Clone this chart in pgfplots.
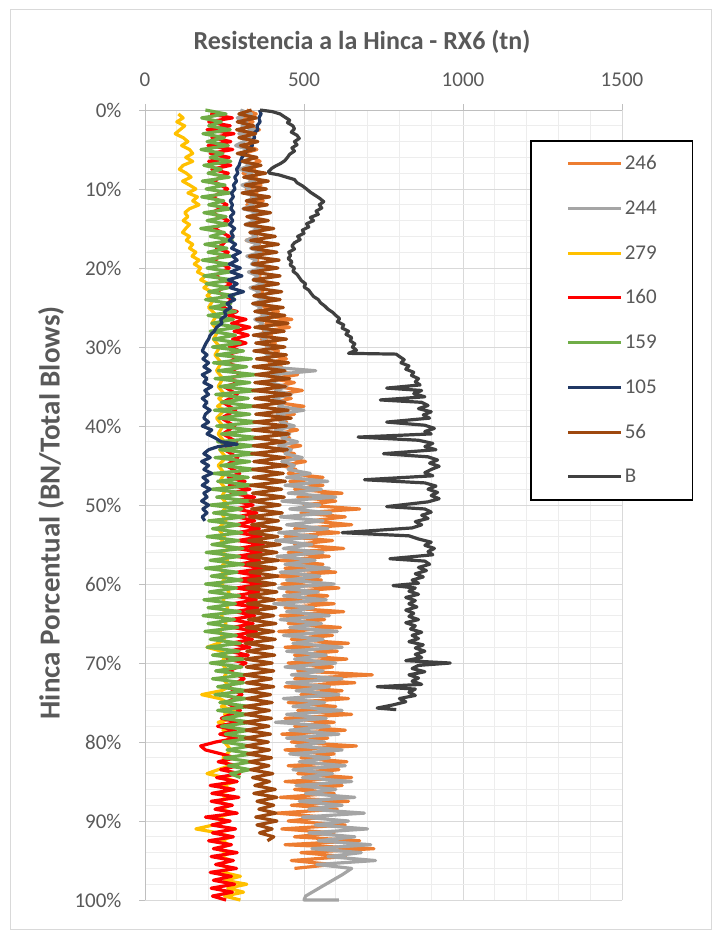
\documentclass[border=0pt]{standalone}
\usepackage{pgfplots}
\pgfplotsset{compat=1.18}
\usepackage{fontspec}
\setmainfont{Carlito}
\definecolor{c246}{HTML}{ED7D31}
\definecolor{c244}{HTML}{A5A5A5}
\definecolor{c279}{HTML}{FFC000}
\definecolor{c160}{HTML}{FF0000}
\definecolor{c159}{HTML}{70AD47}
\definecolor{c105}{HTML}{203864}
\definecolor{c56}{HTML}{9E480E}
\definecolor{cB}{HTML}{404040}
\definecolor{txt}{HTML}{595959}
\definecolor{maj}{HTML}{D9D9D9}
\definecolor{mnr}{HTML}{EDEDED}
\definecolor{axl}{HTML}{BFBFBF}
\begin{document}
\begin{tikzpicture}[x=1bp,y=1bp]
\draw[color=maj, line width=0.8bp] (10.5,-9.5) rectangle (711,-929.5);
\node[font=\fontsize{26bp}{30bp}\selectfont\bfseries, text=txt] at (362,-42) {Resistencia a la Hinca - RX6 (tn)};
\begin{axis}[
  at={(145bp,-110bp)}, anchor=north west,
  scale only axis, width=477bp, height=790bp,
  xmin=0, xmax=1500, ymin=0, ymax=100, y dir=reverse,
  axis x line=top, axis y line=left,
  axis line style={-, draw=axl, line width=0.9bp},
  xtick={0,500,1000,1500}, minor x tick num=4,
  ytick={0,10,...,100}, minor y tick num=4,
  grid=both,
  major grid style={draw=maj, line width=0.8bp},
  minor grid style={draw=mnr, line width=0.8bp},
  tick align=outside, major tick length=6bp, minor tick length=0bp,
  tick style={draw=axl, line width=0.8bp},
  /pgf/number format/assume math mode=true,
  /pgf/number format/1000 sep={},
  tick label style={font=\fontsize{21bp}{25bp}\selectfont, text=txt},
  yticklabel={\pgfmathprintnumber{\tick}\%},
  xticklabel style={yshift=14bp},
  yticklabel style={xshift=-14bp},
  ylabel={Hinca Porcentual (BN/Total Blows)},
  ylabel style={at={(axis description cs:-0.197,0.49)}, anchor=center, font=\fontsize{29bp}{33bp}\selectfont\bfseries, text=txt},
  clip=false,
  every axis plot/.append style={line width=3.2bp, line join=round},
  legend style={at={(axis description cs:0.807,0.962)}, anchor=north west, draw=black, line width=1.6bp, fill=white,
    inner xsep=36bp, inner ysep=14bp, row sep=26.7bp, column sep=2bp,
    font=\fontsize{21bp}{25bp}\selectfont, text=txt,
    nodes={inner sep=0bp, text height=15bp, text depth=3bp}},
  legend cell align=left,
  legend image code/.code={\draw[#1, line width=3bp] (0bp,0bp) -- (53bp,0bp);},
]
% 246
\addplot[c246] coordinates {
(320,0) (350,0.5) (305,1) (340,1.5) (315,2) (360,2.5) (325,3) (300,3.5) (345,4) (318,4.5) (352,5) (310,5.5) (338,6) (362,6.5) (322,7) (345,7.5) (308,8) (350,8.5) (330,9) (365,9.5)
(318,10) (352,10.5) (335,11) (372,11.5) (320,12) (348,12.5) (362,13) (325,13.5) (355,14) (338,14.5) (378,15) (330,15.5) (352,16) (318,16.5) (360,17) (340,17.5) (372,18) (328,18.5) (355,19) (345,19.5)
(380,20) (335,20.5) (362,21) (348,21.5) (385,22) (340,22.5) (370,23) (352,23.5) (392,24) (360,24.5) (378,25) (420,25.5) (368,26) (462,26.5) (380,27) (455,27.5) (372,28) (398,28.5) (365,29) (410,29.5)
(382,30) (420,30.5) (395,31) (445,31.5) (390,32) (430,32.5) (405,33) (480,33.5) (400,34) (470,34.5) (415,35) (495,35.5) (420,36) (460,36.5) (410,37) (500,37.5) (425,38) (470,38.5) (400,39) (445,39.5)
(430,40) (480,40.5) (410,41) (455,41.5) (425,42) (490,42.5) (415,43) (470,43.5) (440,44) (505,44.5) (430,45) (475,45.5) (450,46) (560,46.5) (455,47) (560,47.5) (470,48) (620,48.5) (480,49) (600,49.5)
(500,50) (675,50.5) (490,51) (630,51.5) (520,52) (650,52.5) (470,53) (610,53.5) (440,54) (590,54.5) (470,55) (625,55.5) (450,56) (580,56.5) (425,57) (560,57.5) (440,58) (600,58.5) (415,59) (555,59.5)
(430,60) (610,60.5) (445,61) (575,61.5) (415,62) (595,62.5) (440,63) (625,63.5) (425,64) (565,64.5) (450,65) (615,65.5) (420,66) (590,66.5) (460,67) (640,67.5) (440,68) (605,68.5) (470,69) (635,69.5)
(450,70) (590,70.5) (480,71) (715,71.5) (470,72) (660,72.5) (440,73) (620,73.5) (490,74) (640,74.5) (450,75) (600,75.5) (480,76) (650,76.5) (440,77) (595,77.5) (470,78) (630,78.5) (430,79) (575,79.5)
(460,80) (665,80.5) (440,81) (595,81.5) (490,82) (635,82.5) (450,83) (610,83.5) (480,84) (650,84.5) (440,85) (620,85.5) (470,86) (595,86.5) (425,87) (640,87.5) (460,88) (605,88.5) (415,89) (565,89.5)
(450,90) (630,90.5) (430,91) (595,91.5) (470,92) (675,92.5) (440,93) (720,93.5) (490,94) (630,94.5) (460,95) (590,95.5) (470,96)
};
% 244
\addplot[c244] coordinates {
(300,0) (335,0.5) (290,1) (320,1.5) (305,2) (345,2.5) (295,3) (330,3.5) (310,4) (285,4.5) (325,5) (300,5.5) (340,6) (310,6.5) (330,7) (298,7.5) (335,8) (315,8.5) (345,9) (305,9.5)
(330,10) (312,10.5) (350,11) (320,11.5) (340,12) (308,12.5) (355,13) (325,13.5) (345,14) (315,14.5) (360,15) (330,15.5) (350,16) (318,16.5) (358,17) (332,17.5) (365,18) (320,18.5) (350,19) (335,19.5)
(370,20) (325,20.5) (355,21) (340,21.5) (372,22) (330,22.5) (360,23) (345,23.5) (375,24) (340,24.5) (365,25) (350,25.5) (385,26) (345,26.5) (370,27) (355,27.5) (395,28) (350,28.5) (380,29) (360,29.5)
(400,30) (365,30.5) (390,31) (375,31.5) (420,32) (380,32.5) (537,33) (400,33.5) (430,34) (390,34.5) (445,35) (410,35.5) (460,36) (405,36.5) (440,37) (420,37.5) (500,38) (415,38.5) (450,39) (425,39.5)
(470,40) (410,40.5) (455,41) (430,41.5) (480,42) (420,42.5) (460,43) (440,43.5) (495,44) (430,44.5) (470,45) (450,45.5) (520,46) (445,46.5) (575,47) (440,47.5) (555,48) (450,48.5) (600,49) (430,49.5)
(550,50) (455,50.5) (585,51) (425,51.5) (560,52) (445,52.5) (575,53) (420,53.5) (540,54) (410,54.5) (525,55) (435,55.5) (560,56) (415,56.5) (535,57) (440,57.5) (580,58) (425,58.5) (550,59) (445,59.5)
(595,60) (420,60.5) (545,61) (435,61.5) (570,62) (405,62.5) (530,63) (445,63.5) (580,64) (425,64.5) (555,65) (455,65.5) (605,66) (435,66.5) (560,67) (465,67.5) (620,68) (445,68.5) (570,69) (470,69.5)
(600,70) (440,70.5) (560,71) (460,71.5) (620,72) (445,72.5) (580,73) (475,73.5) (610,74) (435,74.5) (565,75) (465,75.5) (620,76) (445,76.5) (570,77) (410,77.5) (580,78) (455,78.5) (610,79) (445,79.5)
(565,80) (475,80.5) (620,81) (455,81.5) (580,82) (485,82.5) (630,83) (465,83.5) (590,84) (495,84.5) (650,85) (475,85.5) (600,86) (505,86.5) (660,87) (485,87.5) (620,88) (515,88.5) (690,89) (495,89.5)
(640,90) (535,90.5) (700,91) (515,91.5) (660,92) (545,92.5) (710,93) (525,93.5) (680,94) (575,94.5) (725,95) (540,95.5) (650,96) (620,96.8) (560,98.2) (505,99.5) (500,100) (610,100)
};
% 279
\addplot[c279] coordinates {
(105,0.5) (120,1) (100,1.5) (125,2) (110,2.5) (95,3) (120,3.5) (135,4) (115,4.5) (140,5) (150,5.5) (128,6) (150,6.5) (120,7) (108,7.5) (130,8) (145,8.5) (118,9) (140,9.5)
(160,10) (135,10.5) (165,11) (150,11.5) (170,12) (140,12.5) (125,13) (135,13.5) (120,14) (140,14.5) (128,15) (118,15.5) (140,16) (130,16.5) (150,17) (140,17.5) (160,18) (148,18.5) (170,19) (155,19.5)
(175,20) (165,20.5) (190,21) (175,21.5) (200,22) (185,22.5) (210,23) (195,23.5) (215,24) (200,25) (225,26) (210,27) (230,28) (215,29) (235,30) (220,31) (240,32) (225,33) (245,34) (230,35)
(250,36) (232,36.5) (245,37) (228,37.5) (250,38) (225,39) (245,40) (230,41) (250,42) (235,43) (255,44) (230,45) (250,46) (235,47) (255,48) (240,49) (260,50) (240,51) (255,52) (230,53)
(250,54) (235,55) (270,55.5) (240,56) (260,57) (235,58) (255,59) (240,60) (265,61) (245,62) (260,63) (240,64) (255,65) (235,66) (250,67) (230,67.5) (195,68) (240,68.5) (255,69) (240,70)
(260,71) (245,72) (265,73) (240,73.5) (178,74) (235,74.5) (260,75) (240,75.5) (280,76) (250,76.5) (275,77) (230,77.5) (265,78) (245,78.5) (280,79) (250,80) (270,81) (245,82) (265,83) (230,83.5)
(195,84) (250,84.5) (285,85) (245,85.5) (270,86) (235,86.5) (260,87) (230,87.5) (265,88) (240,88.5) (275,89) (230,89.5) (255,90) (215,90.5) (160,91) (230,91.5) (270,92) (240,92.5) (265,93) (225,93.5)
(260,94) (240,94.5) (270,95) (235,95.5) (265,96) (245,96.5) (300,97) (250,97.5) (320,98) (260,98.5) (310,99) (250,99.5) (300,100)
};
% 160
\addplot[c160] coordinates {
(205,0.5) (275,1) (200,1.5) (268,2) (195,2.5) (280,3) (210,3.5) (270,4) (198,4.5) (276,5) (205,5.5) (265,6) (200,6.5) (270,7) (210,7.5) (262,8) (215,9) (260,10) (212,11) (258,12)
(210,13) (262,14) (218,15) (265,16) (245,17) (225,17.5) (262,18) (215,19) (265,20) (220,21) (270,22) (225,23) (275,24) (240,25) (290,25.5) (262,26) (318,26.5) (272,27) (330,27.5) (280,28)
(325,28.5) (275,29) (318,29.5) (265,30) (300,30.5) (255,31) (295,31.5) (250,32) (300,32.5) (265,33) (315,33.5) (255,34) (300,34.5) (248,35) (290,36) (245,37) (285,38) (240,39) (282,40) (245,41)
(288,42) (250,43) (292,44) (255,45) (298,46) (262,46.5) (315,47) (265,47.5) (330,48) (270,48.5) (345,49) (280,49.5) (340,50) (285,50.5) (352,51) (290,51.5) (345,52) (285,52.5) (360,53) (290,53.5)
(365,54) (292,54.5) (372,55) (290,55.5) (365,56) (288,56.5) (360,57) (295,57.5) (375,58) (290,58.5) (362,59) (285,59.5) (368,60) (288,60.5) (358,61) (280,61.5) (350,62) (275,62.5) (355,63) (282,63.5)
(345,64) (270,64.5) (340,65) (275,65.5) (350,66) (280,66.5) (338,67) (268,67.5) (330,68) (262,68.5) (325,69) (258,69.5) (318,70) (265,71) (312,72) (258,73) (305,74) (255,75) (300,76) (240,77)
(292,77.5) (228,78) (285,78.5) (235,79) (290,79.5) (222,80) (175,80.5) (190,81) (240,81.5) (285,82) (230,82.5) (292,83) (238,83.5) (298,84) (225,84.5) (290,85) (205,85.5) (280,86) (210,86.5) (295,87)
(208,87.5) (275,88) (220,88.5) (290,89) (190,89.5) (268,90) (210,90.5) (285,91) (212,91.5) (278,92) (200,92.5) (272,93) (215,93.5) (290,94) (208,94.5) (278,95) (222,95.5) (288,96) (205,96.5) (272,97)
(215,97.5) (282,98) (208,98.5) (275,99) (212,99.5) (255,100)
};
% 159
\addplot[c159] coordinates {
(190,0) (255,0.5) (178,1) (240,1.5) (200,2) (268,2.5) (182,3) (250,3.5) (195,4) (262,4.5) (176,5) (245,5.5) (205,6) (270,6.5) (185,7) (240,7.5) (198,8) (265,8.5) (180,9) (252,9.5)
(192,10) (268,10.5) (178,11) (248,11.5) (200,12) (272,12.5) (185,13) (255,13.5) (195,14) (265,14.5) (175,15) (250,15.5) (205,16) (275,16.5) (188,17) (258,17.5) (198,18) (270,18.5) (180,19) (262,19.5)
(195,20) (268,20.5) (185,21) (275,21.5) (192,22) (262,22.5) (200,23) (280,23.5) (190,24) (270,24.5) (205,25) (285,25.5) (198,26) (278,26.5) (210,27) (295,27.5) (205,28) (285,28.5) (215,29) (300,29.5)
(212,30) (310,30.5) (225,31) (335,31.5) (215,32) (320,32.5) (230,33) (350,33.5) (220,34) (330,34.5) (235,35) (355,35.5) (222,36) (325,36.5) (240,37) (345,37.5) (218,38) (330,38.5) (232,39) (360,39.5)
(225,40) (335,40.5) (240,41) (365,41.5) (228,42) (340,42.5) (235,43) (355,43.5) (220,44) (330,44.5) (238,45) (350,45.5) (215,46) (325,46.5) (228,47) (340,47.5) (210,48) (318,48.5) (225,49) (330,49.5)
(205,50) (305,50.5) (215,51) (312,51.5) (200,52) (298,52.5) (212,53) (305,53.5) (195,54) (295,54.5) (210,55) (308,55.5) (192,56) (298,56.5) (205,57) (310,57.5) (190,58) (290,58.5) (208,59) (305,59.5)
(190,60) (288,60.5) (202,61) (298,61.5) (185,62) (285,62.5) (198,63) (300,63.5) (182,64) (282,64.5) (198,65) (292,65.5) (188,66) (288,66.5) (205,67) (300,67.5) (195,68) (295,68.5) (212,69) (310,69.5)
(205,70) (305,70.5) (222,71) (318,71.5) (212,72) (310,72.5) (228,73) (322,73.5) (220,74) (318,74.5) (235,75) (328,75.5) (228,76) (322,76.5) (245,77) (335,77.5) (240,78) (330,78.5) (252,79) (338,79.5)
(245,80) (332,80.5) (258,81) (340,81.5) (250,82) (335,82.5) (262,83) (330,83.5) (268,84) (300,84.5)
};
% 105
\addplot[c105] coordinates {
(360,0) (365,0.5) (358,1) (362,1.5) (352,2) (355,2.5) (340,3) (345,3.5) (332,4) (338,4.5) (325,5) (315,5.5) (305,6) (300,6.5) (296,7) (288,7.5) (292,8) (282,8.5) (288,9) (278,9.5)
(283,10) (272,10.5) (278,11) (268,11.5) (275,12) (270,12.5) (280,13) (268,13.5) (276,14) (266,14.5) (282,15) (270,15.5) (278,16) (265,16.5) (285,17) (272,17.5) (300,18) (275,18.5) (290,19) (265,19.5)
(300,20) (270,20.5) (305,21) (262,21.5) (290,22) (268,22.5) (310,23) (265,23.5) (282,24) (258,24.5) (270,25) (250,25.5) (255,26) (238,26.5) (242,27) (225,27.5) (218,28) (205,28.5) (200,29) (192,29.5)
(186,30) (180,30.5) (195,31) (182,31.5) (200,32) (185,32.5) (205,33) (180,33.5) (195,34) (185,34.5) (210,35) (188,35.5) (200,36) (180,36.5) (195,37) (185,37.5) (205,38) (190,38.5) (185,39) (200,39.5)
(180,40) (210,40.5) (195,41) (220,41.5) (240,42) (290,42.3) (230,42.6) (200,43) (185,43.5) (205,44) (178,44.5) (200,45) (185,45.5) (210,46) (182,46.5) (198,47) (180,47.5) (205,48) (185,48.5) (195,49)
(178,49.5) (200,50) (182,50.5) (195,51) (180,51.5) (188,52)
};
% 56
\addplot[c56] coordinates {
(335,0) (295,0.5) (350,1) (290,1.5) (342,2) (288,2.5) (348,3) (295,3.5) (355,4) (300,4.5) (345,5) (290,5.5) (352,6) (305,6.5) (365,7) (308,7.5) (380,8) (310,8.5) (388,9) (315,9.5)
(382,10) (305,10.5) (392,11) (318,11.5) (385,12) (310,12.5) (395,13) (320,13.5) (388,14) (315,14.5) (405,15) (330,15.5) (410,16) (332,16.5) (420,17) (335,17.5) (415,18) (328,18.5) (422,19) (338,19.5)
(418,20) (335,20.5) (425,21) (340,21.5) (420,22) (338,22.5) (430,23) (342,23.5) (425,24) (338,24.5) (435,25) (345,25.5) (440,26) (350,26.5) (450,27) (345,27.5) (438,28) (340,28.5) (445,29) (348,29.5)
(440,30) (342,30.5) (445,31) (350,31.5) (452,32) (340,32.5) (440,33) (348,33.5) (455,34) (345,34.5) (442,35) (338,35.5) (458,36) (345,36.5) (440,37) (340,37.5) (450,38) (348,38.5) (460,39) (342,39.5)
(445,40) (338,40.5) (452,41) (345,41.5) (440,42) (340,42.5) (448,43) (335,43.5) (438,44) (342,44.5) (445,45) (338,45.5) (435,46) (340,46.5) (442,47) (332,47.5) (430,48) (338,48.5) (438,49) (330,49.5)
(425,50) (335,50.5) (432,51) (328,51.5) (420,52) (335,52.5) (428,53) (330,53.5) (418,54) (325,54.5) (425,55) (332,55.5) (415,56) (326,56.5) (420,57) (322,57.5) (412,58) (330,58.5) (418,59) (325,59.5)
(410,60) (320,60.5) (415,61) (328,61.5) (408,62) (322,62.5) (412,63) (320,63.5) (405,64) (325,64.5) (412,65) (318,65.5) (405,66) (322,66.5) (410,67) (315,67.5) (402,68) (320,68.5) (408,69) (315,69.5)
(400,70) (318,70.5) (405,71) (312,71.5) (398,72) (318,72.5) (405,73) (315,73.5) (395,74) (320,74.5) (400,75) (312,75.5) (392,76) (315,76.5) (398,77) (312,77.5) (390,78) (318,78.5) (395,79) (315,79.5)
(388,80) (318,80.5) (392,81) (322,81.5) (398,82) (328,82.5) (390,83) (332,83.5) (402,84) (338,84.5) (392,85) (345,85.5) (410,86) (342,86.5) (415,87) (352,87.5) (405,88) (358,88.5) (412,89) (348,89.5)
(415,90) (352,90.5) (400,91) (360,91.5) (405,92) (385,92.5)
};
% B
\addplot[cB] coordinates {
(362,0) (400,0.2) (425,0.5) (440,0.9) (455,1.3) (448,1.6) (465,2.0) (470,2.4) (460,2.8) (478,3.2) (485,3.6) (470,4.0) (478,4.4) (462,4.8) (470,5.2) (455,5.6) (448,6.0) (440,6.4) (425,6.8) (410,7.1)
(398,7.4) (388,7.8) (392,8.0) (420,8.2) (445,8.5) (470,8.8) (478,9.2) (495,9.6) (508,10.0) (520,10.4) (535,10.8) (550,11.2) (562,11.6) (548,12.0) (556,12.4) (538,12.8) (545,13.2) (520,13.6) (530,14.0) (508,14.4)
(515,14.8) (495,15.2) (500,15.6) (480,16.0) (488,16.4) (470,16.8) (462,17.2) (470,17.6) (452,18.0) (458,18.4) (450,18.8) (462,19.2) (456,19.6) (470,20.0) (465,20.4) (478,20.8) (485,21.2) (492,21.6) (505,22.0) (500,22.4)
(515,22.8) (522,23.2) (530,23.6) (545,24.0) (552,24.4) (565,24.8) (575,25.2) (590,25.6) (600,26.0) (612,26.4) (605,26.8) (625,27.2) (620,27.6) (640,28.0) (632,28.4) (650,28.8) (645,29.2) (660,29.6) (652,30.0) (665,30.4)
(640,30.8) (790,30.9) (800,31.2) (815,31.6) (805,32.0) (830,32.4) (820,32.8) (845,33.2) (838,33.6) (860,34.0) (850,34.4) (865,34.8) (760,35.2) (870,35.5) (845,35.9) (880,36.3) (740,36.7) (870,37.0) (890,37.4) (860,37.8)
(900,38.2) (875,38.6) (895,39.0) (760,39.5) (880,39.9) (910,40.3) (880,40.7) (900,41.0) (670,41.4) (860,41.8) (905,42.2) (880,42.6) (915,43.0) (750,43.5) (890,43.9) (920,44.3) (895,44.7) (925,45.1) (900,45.5) (880,45.9)
(905,46.3) (690,46.8) (880,47.2) (915,47.6) (890,48.0) (920,48.4) (900,48.8) (925,49.2) (890,49.6) (760,50.2) (880,50.5) (900,50.9) (870,51.3) (890,51.7) (850,52.1) (870,52.5) (840,52.9) (620,53.5) (830,53.9) (860,54.3)
(900,54.7) (880,55.1) (910,55.5) (890,55.9) (905,56.3) (770,56.8) (880,57.1) (895,57.5) (860,57.9) (885,58.3) (850,58.7) (875,59.1) (840,59.5) (860,59.9) (780,60.2) (850,60.5) (830,60.9) (860,61.3) (820,61.7) (850,62.1)
(830,62.5) (855,62.9) (820,63.3) (845,63.7) (830,64.1) (860,64.5) (820,64.9) (850,65.3) (835,65.7) (870,66.1) (840,66.5) (860,66.9) (830,67.3) (875,67.7) (850,68.1) (880,68.5) (850,68.9) (870,69.3) (820,69.7) (960,70.0)
(860,70.3) (840,70.7) (880,71.1) (830,71.5) (860,71.9) (840,72.3) (870,72.7) (730,73.0) (850,73.3) (830,73.7) (850,74.1) (800,74.5) (820,74.9) (780,75.3) (730,75.7) (790,75.9)
};
\legend{246,244,279,160,159,105,56,B}
\end{axis}
\pgfresetboundingbox
\path[use as bounding box] (0,0) rectangle (720,-933);
\end{tikzpicture}
\end{document}
